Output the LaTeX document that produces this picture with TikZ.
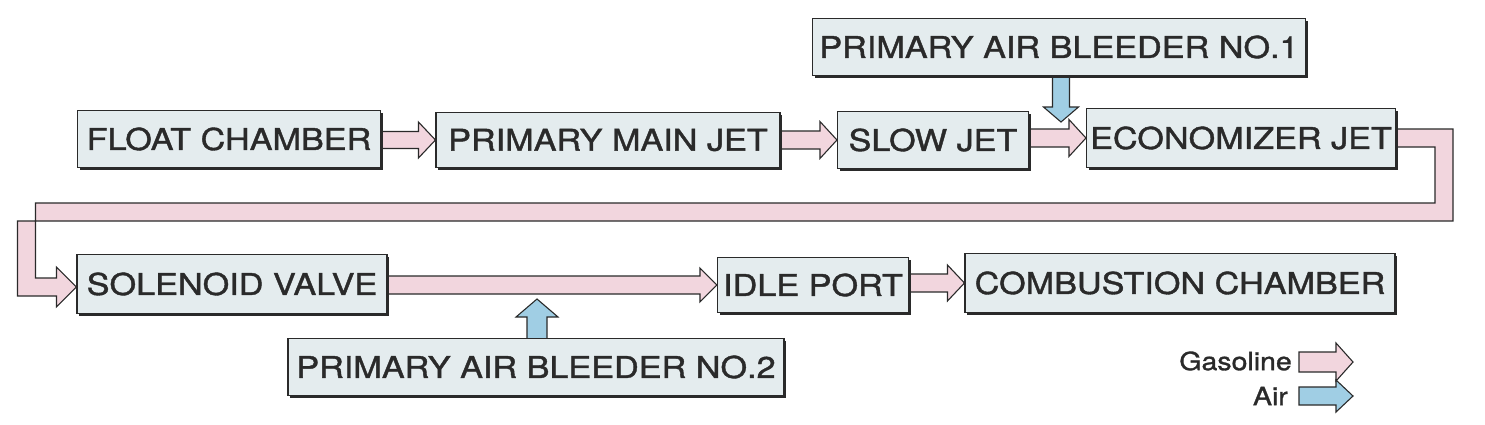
\documentclass[tikz,border=0pt]{standalone}
\usepackage{fontspec}
\setmainfont{TeX Gyre Heros}[FakeStretch=1.14, FakeBold=1.3]
\usetikzlibrary{calc,shadows}
\definecolor{gas}{HTML}{F2D6DE}
\definecolor{air}{HTML}{A0CEE4}
\definecolor{boxfill}{HTML}{E4ECEE}
\definecolor{ink}{HTML}{2A2A2A}
\pgfdeclarelayer{bg}
\pgfsetlayers{bg,main}
\tikzset{
  box/.style={draw=ink, line width=1.1pt, fill=boxfill, inner sep=0pt,
    text=ink, font=\fontsize{30}{35}\selectfont,
    drop shadow={shadow xshift=2.4pt, shadow yshift=-2.4pt, fill=ink, opacity=1}},
  arr/.style={draw=ink, line width=1.1pt, line join=miter},
  legtext/.style={text=ink, inner sep=0pt, font=\fontsize{25}{30}\selectfont}
}
\newcommand\harr[5]{%
  \path[arr,fill=#3] let \p1=(#1), \p2=(#2) in
   (\x1,\y2+#4) -- (\x2-17pt,\y2+#4) -- (\x2-17pt,\y2+#5) -- (\x2,\y2)
   -- (\x2-17pt,\y2-#5) -- (\x2-17pt,\y2-#4) -- (\x1,\y2-#4) -- cycle;}
\begin{document}
\begin{tikzpicture}[x=1pt,y=-1pt]
\useasboundingbox (0,0) rectangle (1485,424);
% boxes
\node[box, minimum width=303, minimum height=57] (fc)   at (229,139) {FLOAT CHAMBER};
\node[box, minimum width=344, minimum height=55] (pmj)  at (608,140) {PRIMARY MAIN JET};
\node[box, minimum width=191, minimum height=57] (slow) at (933,140) {SLOW JET};
\node[box, minimum width=309, minimum height=59] (econ) at (1241,138) {ECONOMIZER JET};
\node[box, minimum width=493, minimum height=57] (pab1) at (1059,47) {PRIMARY AIR BLEEDER NO.1};
\node[box, minimum width=310, minimum height=59] (sol)  at (232,284) {SOLENOID VALVE};
\node[box, minimum width=191, minimum height=55] (idle) at (813,285) {IDLE PORT};
\node[box, minimum width=430, minimum height=59] (comb) at (1180,283) {COMBUSTION CHAMBER};
\node[box, minimum width=496, minimum height=57] (pab2) at (536,367) {PRIMARY AIR BLEEDER NO.2};
% legend labels
\node[legtext, anchor=east] (lgas) at (1292,361) {Gasoline};
\node[legtext, anchor=east] (lair) at (1288,396) {Air};
\coordinate (lgs) at (1299,362);
\coordinate (lge) at (1353,362);
\coordinate (las) at (1299,396);
\coordinate (lae) at (1353,396);
\coordinate (j1) at (1061,122);
\coordinate (j2) at (537,299);
\begin{pgfonlayer}{bg}
  \harr{fc.center}{pmj.west}{gas}{8.5pt}{18pt}
  \harr{pmj.center}{slow.west}{gas}{9pt}{18.5pt}
  \harr{slow.center}{econ.west}{gas}{9pt}{18.5pt}
  \harr{sol.center}{idle.west}{gas}{9pt}{17pt}
  \harr{idle.center}{comb.west}{gas}{9pt}{18pt}
  % big loop economizer -> solenoid
  \path[arr,fill=gas] let \p1=(econ.center), \p2=(sol.west) in
    (\x1,\y1+9pt) -- (1453pt,\y1+9pt) -- (1453pt,-221pt) -- (17.5pt,-221pt)
    -- (17.5pt,\y2-12pt) -- (\x2-20pt,\y2-12pt) -- (\x2-20pt,\y2-23pt) -- (\x2,\y2-3pt)
    -- (\x2-20pt,\y2+17pt) -- (\x2-20pt,\y2+6pt) -- (35.5pt,\y2+6pt)
    -- (35.5pt,-203pt) -- (1435pt,-203pt) -- (1435pt,\y1-9pt) -- (\x1,\y1-9pt) -- cycle;
  % air arrows
  \path[arr,fill=air] let \p1=(pab1.center), \p2=(j1) in
    (\x2-8.5pt,\y1) -- (\x2-8.5pt,\y2+15pt) -- (\x2-17.5pt,\y2+15pt) -- (\x2,\y2)
    -- (\x2+17.5pt,\y2+15pt) -- (\x2+8.5pt,\y2+15pt) -- (\x2+8.5pt,\y1) -- cycle;
  \path[arr,fill=air] let \p1=(pab2.center), \p2=(j2) in
    (\x2-10pt,\y1) -- (\x2-10pt,\y2-18pt) -- (\x2-21pt,\y2-18pt) -- (\x2,\y2)
    -- (\x2+21pt,\y2-18pt) -- (\x2+10pt,\y2-18pt) -- (\x2+10pt,\y1) -- cycle;
\end{pgfonlayer}
% legend arrows
\harr{lgs}{lge}{gas}{10pt}{19pt}
\harr{las}{lae}{air}{9pt}{16pt}
\end{tikzpicture}
\end{document}
